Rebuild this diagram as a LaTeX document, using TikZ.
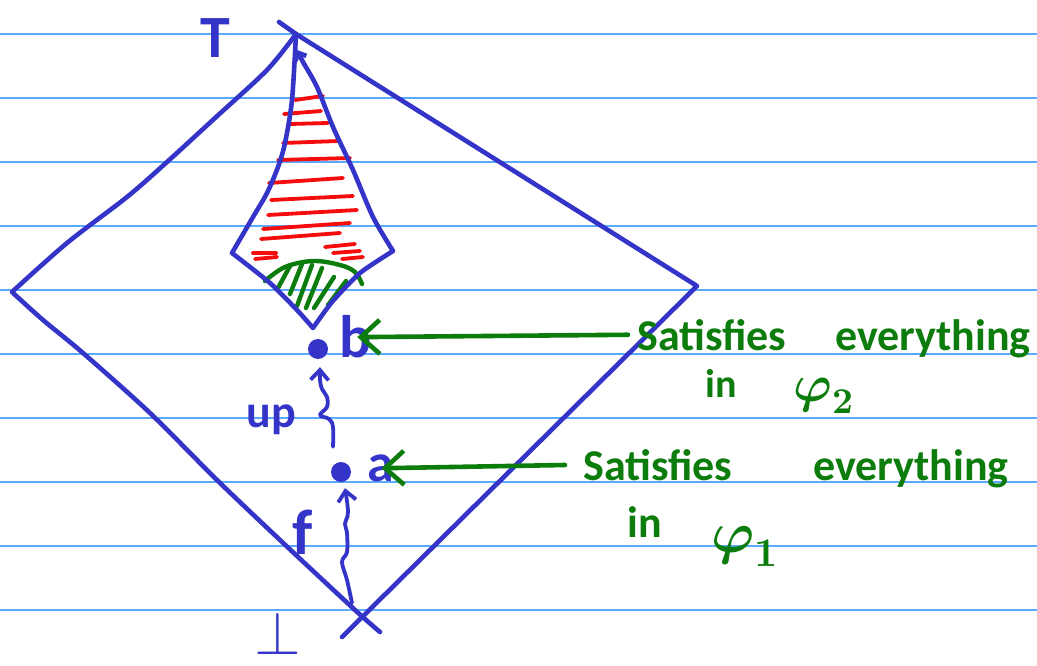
\documentclass[tikz,border=0pt]{standalone}
\usepackage{fontspec}
\usepackage{unicode-math}
\setmainfont{Carlito}
\setmathfont{Latin Modern Math}
\usetikzlibrary{arrows.meta,calc}
\definecolor{pen}{RGB}{52,52,200}
\definecolor{gpen}{RGB}{12,125,12}
\definecolor{rpen}{RGB}{245,12,12}
\definecolor{rulec}{RGB}{90,170,255}
\begin{document}
\begin{tikzpicture}[x=1pt,y=-1pt,
  rulel/.style={rulec, line width=1.4pt},
  bluel/.style={pen, line width=4.6pt, line cap=round, line join=round},
  redl/.style={rpen, line width=3.8pt, line cap=round},
  greenl/.style={gpen, line width=4.4pt, line cap=round},
  squig/.style={pen, line width=3.8pt, line cap=round, line join=round, -{Straight Barb[length=10pt,width=18pt]}},
  garrow/.style={gpen, line width=4.6pt, line cap=round, -{Straight Barb[length=19pt,width=34pt]}},
  dot/.style={circle, fill=pen, inner sep=0pt, minimum size=20pt},
  lbl/.style={pen, inner sep=0pt},
  gtxt/.style={gpen, inner sep=0pt, anchor=base west},
]
\useasboundingbox (0,0) rectangle (1037,666);
\fill[white] (0,0) rectangle (1037,666);
\foreach \yy in {34,98,...,610} \draw[rulel] (0,\yy) -- (1037,\yy);

% outer diamond
\coordinate (top) at (296,34);
\coordinate (bot) at (355,610);
\draw[bluel] (279,22) -- (top) -- (697,286) -- (342,637);
\draw[bluel] plot[smooth,tension=0.5] coordinates {(top) (267,70) (215,118) (167,162) (127,197) (67,243) (12,292)}
  -- plot[smooth,tension=0.5] coordinates {(12,292) (43,320) (83,353) (150,413) (217,480) (280,540) (bot) (380,632)};

% red hatching
\foreach \xa/\ya/\xb/\yb in {295/100/323/96, 284/114/321/111, 290/124/328/123, 283/143/339/141,
  278/160/350/158, 269/183/343/178, 271/200/353/196, 268/215/357/210, 263/229/350/223,
  261/239/340/233, 325/247/355/244, 253/253/276/253, 333/253/360/251, 255/259/277/257, 342/259/363/257}
  \draw[redl] (\xa,\ya) -- (\xb,\yb);

% green cap
\draw[greenl] plot[smooth,tension=0.6] coordinates {(265,281) (285,267) (313,261) (340,265) (355,272) (362,284)};
\foreach \xa/\ya/\xb/\yb in {290/266/278/288, 302/264/290/294, 312/265/297/306, 322/268/306/308, 334/277/314/308, 346/281/328/305}
  \draw[greenl] (\xa,\ya) -- (\xb,\yb);

% inner kite
\draw[bluel, -{Straight Barb[length=6pt,width=12pt]}] plot[smooth,tension=0.5] coordinates {(top) (292,100) (285,143) (278,167) (267,193) (253,217) (232,253)}
  -- plot[smooth,tension=0.4] coordinates {(232,253) (270,283) (297,310) (313,328)}
  -- plot[smooth,tension=0.4] coordinates {(313,328) (332,302) (360,273) (393,251)}
  -- plot[smooth,tension=0.5] coordinates {(393,251) (373,217) (353,170) (333,127) (317,87) (303,62) (297,50)};

% labels
\node[lbl, font=\bfseries\fontsize{60}{64}\selectfont] (tlab) at (215,38) {T};
\node[lbl, font=\fontsize{60}{64}\selectfont] (botlab) at (278,634) {$\symbf{\perp}$};

\node[dot] (b) at (318,349) {};
\node[dot] (a) at (341,472) {};
\node[lbl, font=\bfseries\fontsize{60}{64}\selectfont] (blab) at (356,337) {b};
\node[lbl, font=\bfseries\fontsize{54}{58}\selectfont] (alab) at (381,468) {a};
\node[lbl, font=\bfseries\fontsize{46}{50}\selectfont] (up) at (271,420) {up};
\node[lbl, font=\bfseries\fontsize{64}{68}\selectfont] (f) at (303,532) {f};

% squiggle arrows
\coordinate (ua) at ($(a.north)+(-8,-15)$);
\coordinate (ub) at ($(b.south)+(2,8)$);
\draw[squig] plot[smooth,tension=0.6] coordinates {(ua) (333,427) (329,419) (320,415) (327,407) (327,397) (322,389) (320,380) (ub)};
\coordinate (fa) at ($(bot)+(-3,-7)$);
\coordinate (fb) at ($(a.south)+(4,6)$);
\draw[squig] plot[smooth,tension=0.6] coordinates {(fa) (347,580) (342,562) (347,552) (347,533) (345,524) (348,512) (fb)};

% green texts
\node[gtxt, font=\bfseries\fontsize{44}{50}\selectfont] (sat1) at (637,350) {Satisfies};
\node[gtxt, font=\bfseries\fontsize{44}{50}\selectfont] (ev1) at (835,350) {everything};
\node[gtxt, font=\bfseries\fontsize{40}{44}\selectfont] (in1) at (705,397) {in};
\node[gtxt, font=\fontsize{52}{60}\selectfont] (phi2) at (793,401) {$\symbf{\varphi}_{\symbf{2}}$};

\node[gtxt, font=\bfseries\fontsize{44}{50}\selectfont] (sat2) at (583,480) {Satisfies};
\node[gtxt, font=\bfseries\fontsize{44}{50}\selectfont] (ev2) at (813,480) {everything};
\node[gtxt, font=\bfseries\fontsize{44}{48}\selectfont] (in2) at (627,537) {in};
\node[gtxt, font=\fontsize{58}{64}\selectfont] (phi1) at (711,552) {$\symbf{\varphi}_{\symbf{1}}$};

% green arrows
\draw[garrow, shorten <=9pt, shorten >=-15pt] (sat1.west) -- (blab.east);
\draw[garrow, shorten <=18pt, shorten >=-13pt] (sat2.west) -- (alab.east);
\end{tikzpicture}
\end{document}
